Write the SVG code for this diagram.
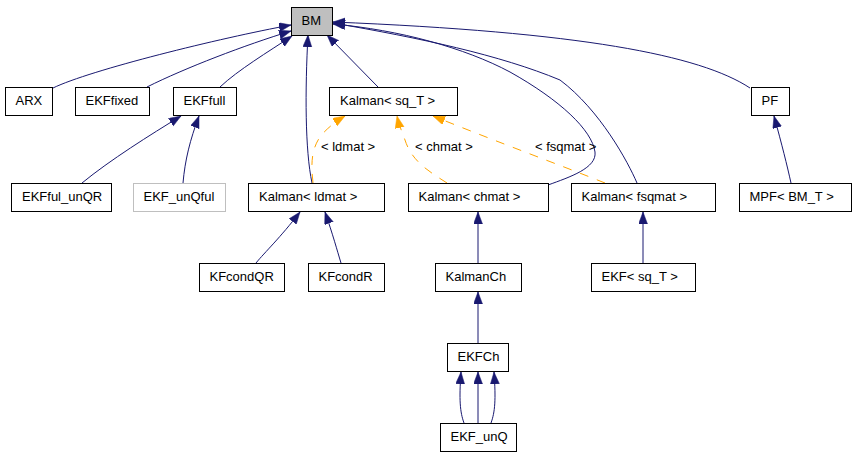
<svg xmlns="http://www.w3.org/2000/svg" width="856" height="456" viewBox="0 0 856 456">
<style>
text{font-family:"Liberation Sans",Arial,Helvetica,sans-serif;font-size:13px;fill:#000}
.n rect{fill:#fff;stroke:#000;stroke-width:1}
.e path{fill:none;stroke:#191970;stroke-width:1}
.e path.t{stroke:#ffa500;stroke-dasharray:9,9}
</style>
<defs>
<marker id="a" markerUnits="userSpaceOnUse" markerWidth="13" markerHeight="10" refX="12" refY="4.5" orient="auto"><path d="M0,0 L12,4.5 L0,9 z" fill="#191970" stroke="#191970" stroke-width="0.5"/></marker>
<marker id="o" markerUnits="userSpaceOnUse" markerWidth="13" markerHeight="10" refX="12" refY="4.5" orient="auto"><path d="M0,0 L12,4.5 L0,9 z" fill="#ffa500" stroke="#ffa500" stroke-width="0.5"/></marker>
</defs>
<rect width="856" height="456" fill="#fff"/>
<g id="edges" class="e">
<path marker-end="url(#a)" d="M53,88 C90,70 220,38 291,25"/>
<path marker-end="url(#a)" d="M147,87 C185,68 245,45 291,31"/>
<path marker-end="url(#a)" d="M220,87 C238,70 268,52 292,36"/>
<path marker-end="url(#a)" d="M312,183 C305,150 305,90 308,35"/>
<path marker-end="url(#a)" d="M378,87 L327,35"/>
<path marker-end="url(#a)" d="M750,88 C700,55 580,32 333,22"/>
<path marker-end="url(#a)" d="M637,183 C628,162 600,110 560,80 C500,55 420,38 333,23"/>
<path marker-end="url(#a)" d="M548,185 C570,177 597,168 595,152 C592,130 560,100 510,72 C465,48 400,30 333,24"/>
<path marker-end="url(#a)" d="M82,183 C110,160 150,135 181,116"/>
<path marker-end="url(#a)" d="M183,183 C185,160 190,140 199,116"/>
<path marker-end="url(#a)" d="M256,263 C265,252 280,238 300,212"/>
<path marker-end="url(#a)" d="M341,263 C337,250 333,235 325,212"/>
<path marker-end="url(#a)" d="M478,263 L478,212"/>
<path marker-end="url(#a)" d="M643,263 L643,212"/>
<path marker-end="url(#a)" d="M791,183 C787,165 782,145 774,116"/>
<path marker-end="url(#a)" d="M478,343 L478,292"/>
<path marker-end="url(#a)" d="M478,423 L478,372"/>
<path marker-end="url(#a)" d="M464,423 C460,412 459,400 461,372"/>
<path marker-end="url(#a)" d="M491,423 C495,412 496,400 494,372"/>
<path class="t" marker-end="url(#o)" d="M313,183 C311,165 311,150 320,137 C326,129 335,122 345,116"/>
<path class="t" marker-end="url(#o)" d="M447,183 C430,172 412,162 405,140 C402,132 399,125 397,116"/>
<path class="t" marker-end="url(#o)" d="M605,183 C560,165 500,143 433,116"/>
</g>
<g id="labels">
<text x="321" y="151">&lt; ldmat &gt;</text>
<text x="415" y="151">&lt; chmat &gt;</text>
<text x="535" y="151">&lt; fsqmat &gt;</text>
</g>
<g id="BM" class="n"><rect x="291.5" y="7.5" width="41" height="28" style="fill:#bfbfbf"/><text x="301.5" y="25">BM</text></g>
<g id="ARX" class="n"><rect x="5.5" y="87.5" width="47" height="28"/><text x="15.5" y="105">ARX</text></g>
<g id="EKFfixed" class="n"><rect x="75.5" y="87.5" width="74" height="28"/><text x="85.5" y="105">EKFfixed</text></g>
<g id="EKFfull" class="n"><rect x="173.5" y="87.5" width="63" height="28"/><text x="183.5" y="105">EKFfull</text></g>
<g id="Kalman_sq_T" class="n"><rect x="329.5" y="87.5" width="128" height="28"/><text x="340" y="105">Kalman&lt; sq_T &gt;</text></g>
<g id="PF" class="n"><rect x="751.5" y="87.5" width="38" height="28"/><text x="761.5" y="105">PF</text></g>
<g id="EKFful_unQR" class="n"><rect x="11.5" y="183.5" width="100" height="28"/><text x="22" y="201">EKFful_unQR</text></g>
<g id="EKF_unQful" class="n"><rect x="133.5" y="183.5" width="92" height="28" style="stroke:#bfbfbf"/><text x="143.5" y="201">EKF_unQful</text></g>
<g id="Kalman_ldmat" class="n"><rect x="248.5" y="183.5" width="136" height="28"/><text x="259" y="201">Kalman&lt; ldmat &gt;</text></g>
<g id="Kalman_chmat" class="n"><rect x="408.5" y="183.5" width="140" height="28"/><text x="418.5" y="201">Kalman&lt; chmat &gt;</text></g>
<g id="Kalman_fsqmat" class="n"><rect x="571.5" y="183.5" width="144" height="28"/><text x="581.5" y="201">Kalman&lt; fsqmat &gt;</text></g>
<g id="MPF_BM_T" class="n"><rect x="739.5" y="183.5" width="112" height="28"/><text x="749.5" y="201">MPF&lt; BM_T &gt;</text></g>
<g id="KFcondQR" class="n"><rect x="199.5" y="263.5" width="85" height="28"/><text x="209.5" y="281">KFcondQR</text></g>
<g id="KFcondR" class="n"><rect x="308.5" y="263.5" width="76" height="28"/><text x="318.5" y="281">KFcondR</text></g>
<g id="KalmanCh" class="n"><rect x="435.5" y="263.5" width="86" height="28"/><text x="445.5" y="281">KalmanCh</text></g>
<g id="EKF_sq_T" class="n"><rect x="591.5" y="263.5" width="104" height="28"/><text x="601.5" y="281">EKF&lt; sq_T &gt;</text></g>
<g id="EKFCh" class="n"><rect x="447.5" y="343.5" width="61" height="28"/><text x="457.5" y="361">EKFCh</text></g>
<g id="EKF_unQ" class="n"><rect x="440.5" y="423.5" width="76" height="28"/><text x="450.5" y="441">EKF_unQ</text></g>
</svg>
